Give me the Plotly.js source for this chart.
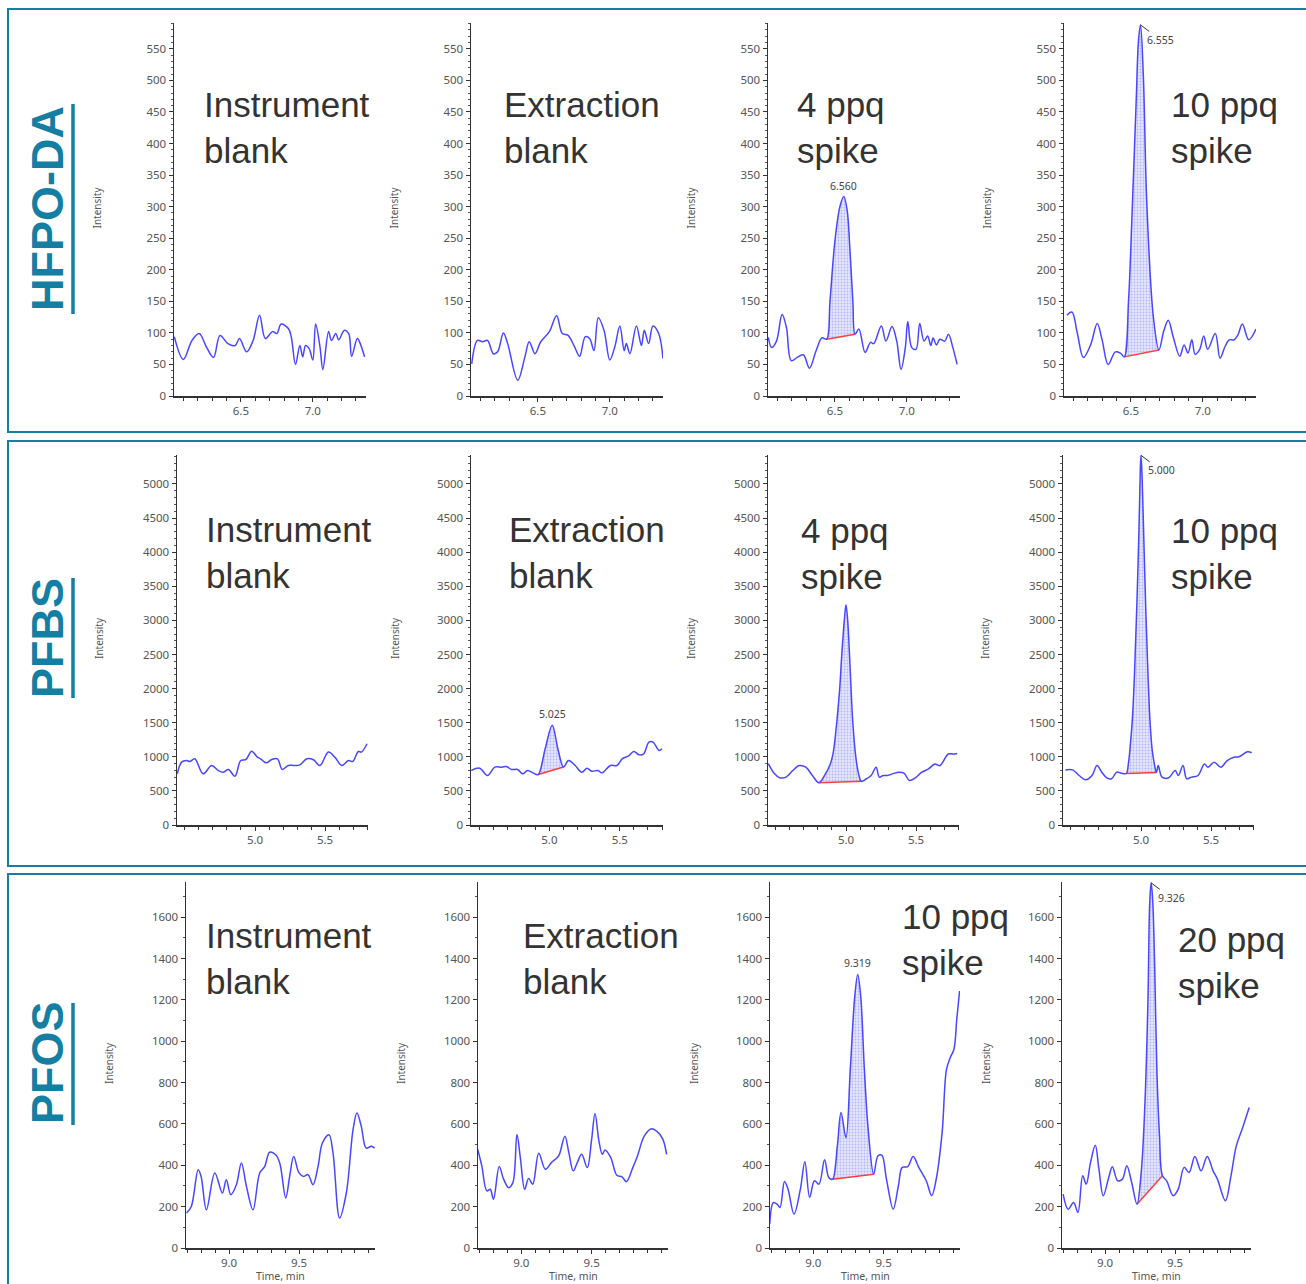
<!DOCTYPE html>
<html>
<head>
<meta charset="utf-8">
<script src="https://cdn.plot.ly/plotly-3.0.1.min.js"></script>
<style>html,body{margin:0;padding:0;background:#fff;}#chart{width:1306px;height:1284px;}</style>
</head>
<body>
<div id="chart"></div>
<script>
// ---------------- DATA ----------------
const rowNames = ['HFPO-DA', 'PFBS', 'PFOS'];
const sampleLabels = [
  ['Instrument<br>blank', 'Extraction<br>blank', '4 ppq<br>spike', '10 ppq<br>spike'],
  ['Instrument<br>blank', 'Extraction<br>blank', '4 ppq<br>spike', '10 ppq<br>spike'],
  ['Instrument<br>blank', 'Extraction<br>blank', '10 ppq<br>spike', '20 ppq<br>spike']
];
const xTickVals = [[6.5, 7.0], [5.0, 5.5], [9.0, 9.5]];
const xTickText = [['6.5', '7.0'], ['5.0', '5.5'], ['9.0', '9.5']];
const xAxisTitle = 'Time, min';
const yAxisTitle = 'Intensity';

// HFPO-DA
const hfpoInstT = [6.037,6.10,6.16,6.21,6.26,6.31,6.355,6.41,6.46,6.49,6.54,6.585,6.63,6.67,6.72,6.75,6.78,6.83,6.85,6.88,6.91,6.93,6.95,6.975,7.0,7.02,7.05,7.07,7.11,7.13,7.16,7.18,7.22,7.25,7.27,7.31,7.33,7.36];
const hfpoInstI = [94,58,88,99,78,61,96,83,80,91,70,88,128,91,102,99,114,107,94,50,80,62,80,75,57,114,78,42,102,88,99,89,104,99,63,91,83,62];
const hfpoExtT = [6.04,6.08,6.115,6.15,6.19,6.22,6.26,6.29,6.36,6.41,6.44,6.48,6.52,6.58,6.63,6.67,6.71,6.755,6.79,6.83,6.86,6.89,6.92,6.96,7.0,7.035,7.07,7.1,7.115,7.14,7.185,7.22,7.24,7.27,7.30,7.34,7.37];
const hfpoExtI = [51,88,86,88,67,70,100,83,25,62,86,67,86,102,127,99,96,78,63,94,91,72,124,104,57,78,111,72,83,67,111,80,104,83,111,99,59];
const hfpoS4T = [6.037,6.06,6.094,6.133,6.163,6.197,6.243,6.282,6.323,6.37,6.41,6.443,6.466,6.50,6.535,6.562,6.585,6.605,6.625,6.64,6.667,6.71,6.748,6.77,6.823,6.855,6.897,6.93,6.96,6.99,7.007,7.034,7.064,7.09,7.12,7.145,7.167,7.183,7.206,7.23,7.264,7.29,7.32,7.35];
const hfpoS4I = [93,77,87,129,109,56,62,65,44,72,92,90,150,245,300,316,295,230,150,98,106,69,85,83,111,87,110,87,42,77,118,77,74,115,87,95,80,92,81,90,87,98,77,50];
const hfpoS4Peak = [6.443, 6.64];
const hfpoS4Label = '6.560';
const hfpoS10T = [6.055,6.09,6.128,6.17,6.22,6.266,6.30,6.342,6.392,6.427,6.454,6.484,6.51,6.537,6.553,6.567,6.587,6.61,6.656,6.695,6.73,6.76,6.794,6.84,6.87,6.897,6.924,6.947,6.977,7.007,7.034,7.087,7.12,7.154,7.184,7.218,7.245,7.275,7.32,7.37];
const hfpoS10I = [128,133,99,61,81,115,89,50,70,68,62,152,300,468,563,588,505,310,126,73,104,120,94,63,81,68,89,66,73,95,74,99,60,78,89,89,97,114,89,106];
const hfpoS10Peak = [6.454, 6.695];
const hfpoS10Label = '6.555';

// PFBS
const pfbsInstT = [4.445,4.476,4.51,4.536,4.57,4.63,4.69,4.738,4.774,4.81,4.857,4.898,4.936,4.976,5.017,5.04,5.08,5.12,5.16,5.195,5.238,5.28,5.32,5.37,5.417,5.464,5.524,5.57,5.62,5.667,5.698,5.738,5.76,5.80];
const pfbsInstI = [750,922,946,931,970,750,873,799,775,814,716,946,961,1083,995,970,912,961,970,814,873,873,882,970,956,873,1069,995,873,946,931,1078,1069,1191];
const pfbsExtT = [4.445,4.505,4.56,4.612,4.66,4.695,4.73,4.774,4.81,4.845,4.886,4.92,4.97,5.02,5.06,5.10,5.136,5.183,5.23,5.267,5.30,5.345,5.374,5.433,5.48,5.517,5.56,5.60,5.636,5.67,5.707,5.736,5.779,5.80];
const pfbsExtI = [799,833,725,848,848,858,814,814,750,799,760,740,1118,1461,1118,850,946,873,775,833,789,799,765,873,873,970,1010,1078,1029,1044,1216,1216,1093,1118];
const pfbsExtPeak = [4.92, 5.10];
const pfbsExtLabel = '5.025';
const pfbsS4T = [4.445,4.49,4.526,4.572,4.62,4.666,4.713,4.76,4.806,4.853,4.888,4.908,4.935,4.955,4.97,4.988,5.0,5.012,5.025,5.036,5.048,5.07,5.09,5.11,5.145,5.18,5.215,5.238,5.266,5.297,5.332,5.378,5.414,5.453,5.495,5.542,5.589,5.636,5.67,5.73,5.764,5.794];
const pfbsS4I = [900,750,692,702,799,871,847,726,620,750,896,1050,1525,2000,2500,3000,3230,3000,2500,2000,1525,1000,750,640,678,726,847,702,726,726,750,774,760,653,692,774,823,896,871,1041,1041,1050];
const pfbsS4Peak = [4.806, 5.11];
const pfbsS10T = [4.46,4.512,4.558,4.605,4.65,4.686,4.72,4.756,4.79,4.826,4.86,4.895,4.91,4.925,4.94,4.955,4.97,4.985,4.995,5.0,5.008,5.02,5.035,5.05,5.065,5.08,5.095,5.11,5.123,5.15,5.198,5.244,5.267,5.30,5.326,5.36,5.407,5.453,5.477,5.523,5.57,5.616,5.663,5.70,5.76,5.79];
const pfbsS10I = [808,808,726,663,726,871,774,692,678,774,760,755,900,1200,1600,2300,3200,4300,5200,5420,5100,4200,3100,2200,1500,1100,900,770,871,702,692,799,726,871,678,702,726,896,847,920,847,944,992,1000,1075,1060];
const pfbsS10Peak = [4.895, 5.11];
const pfbsS10Label = '5.000';

// PFOS
const pfosInstT = [8.695,8.73,8.779,8.80,8.838,8.898,8.952,8.98,9.012,9.052,9.088,9.124,9.171,9.219,9.255,9.29,9.333,9.362,9.405,9.433,9.462,9.5,9.533,9.564,9.6,9.636,9.667,9.714,9.743,9.79,9.838,9.886,9.914,9.945,9.98,10.017,10.04];
const pfosInstI = [169,201,379,346,185,363,266,330,258,306,411,298,185,363,395,463,451,411,242,346,443,363,346,355,306,395,508,548,459,145,266,572,653,588,483,492,483];
const pfosExtT = [8.69,8.719,8.755,8.779,8.802,8.843,8.874,8.91,8.94,8.969,8.993,9.024,9.052,9.081,9.124,9.171,9.214,9.255,9.271,9.31,9.338,9.369,9.398,9.429,9.469,9.5,9.524,9.552,9.576,9.595,9.636,9.679,9.714,9.748,9.79,9.826,9.874,9.926,9.962,10.005,10.033];
const pfosExtI = [477,397,276,284,236,394,333,292,316,549,437,284,336,308,458,381,413,437,453,541,461,373,413,453,389,525,651,517,453,474,437,352,345,321,384,445,541,577,565,528,453];
const pfosS10T = [8.69,8.716,8.742,8.763,8.795,8.82,8.863,8.908,8.94,8.974,9.008,9.04,9.08,9.11,9.137,9.171,9.197,9.232,9.263,9.295,9.316,9.337,9.363,9.39,9.429,9.46,9.487,9.52,9.568,9.605,9.632,9.671,9.71,9.75,9.803,9.842,9.874,9.916,9.947,9.974,10.0,10.02,10.04];
const pfosS10I = [116,220,212,196,322,285,164,285,417,245,325,309,427,341,333,494,655,534,864,1218,1323,1218,864,575,357,446,449,333,188,301,390,393,443,390,325,253,333,559,864,921,961,1106,1243];
const pfosS10Peak = [9.137, 9.429];
const pfosS10Label = '9.319';
const pfosS20T = [8.70,8.736,8.775,8.806,8.84,8.865,8.896,8.93,8.956,8.987,9.026,9.052,9.09,9.124,9.155,9.19,9.228,9.26,9.285,9.306,9.319,9.329,9.34,9.355,9.37,9.389,9.41,9.44,9.487,9.523,9.565,9.6,9.642,9.686,9.73,9.772,9.803,9.86,9.9,9.938,9.98,10.03];
const pfosS20I = [261,188,220,172,349,309,414,497,381,253,341,393,325,333,398,317,212,381,703,1186,1669,1766,1685,1347,864,542,349,325,253,285,390,365,443,373,443,373,333,229,349,494,575,679];
const pfosS20Peak = [9.228, 9.41];
const pfosS20Label = '9.326';

// ---------------- LAYOUT GEOMETRY ----------------
const W = 1306, H = 1284;
const rowPx = [[23, 396], [455, 825], [882, 1248]];
const colPx = [
  [[174, 366], [471, 663], [768, 960], [1064, 1256]],
  [[177, 368], [471, 663], [768, 959], [1063, 1254]],
  [[186, 375], [478, 668], [770, 960], [1062, 1251]]
];
const xRanges = [[6.035, 7.37], [4.443, 5.807], [8.692, 10.043]];
const yRanges = [[0, 591], [0, 5425], [0, 1770]];
const yDtick = [50, 500, 200];
const yMinor = [10, 100, 100];
const labelPx = [
  [[202, 83], [502, 83], [795, 83], [1169, 83]],
  [[204, 508], [507, 508], [799, 509], [1169, 509]],
  [[204, 914], [521, 914], [900, 895], [1176, 918]]
];
const intensityX = [[96, 393, 690, 986], [99, 395, 691, 985], [109, 401, 694, 986]];
const rowLabelY = [209, 638, 1063];
const underlinePx = [[104, 314], [578, 698], [1003, 1125]];
const boxPx = [[9, 432], [441, 866], [874, 1300]];

const panels = [
  {t: hfpoInstT, y: hfpoInstI},
  {t: hfpoExtT, y: hfpoExtI},
  {t: hfpoS4T, y: hfpoS4I, peak: hfpoS4Peak, label: hfpoS4Label, style: 'above'},
  {t: hfpoS10T, y: hfpoS10I, peak: hfpoS10Peak, label: hfpoS10Label, style: 'side'},
  {t: pfbsInstT, y: pfbsInstI},
  {t: pfbsExtT, y: pfbsExtI, peak: pfbsExtPeak, label: pfbsExtLabel, style: 'above'},
  {t: pfbsS4T, y: pfbsS4I, peak: pfbsS4Peak},
  {t: pfbsS10T, y: pfbsS10I, peak: pfbsS10Peak, label: pfbsS10Label, style: 'side'},
  {t: pfosInstT, y: pfosInstI},
  {t: pfosExtT, y: pfosExtI},
  {t: pfosS10T, y: pfosS10I, peak: pfosS10Peak, label: pfosS10Label, style: 'above'},
  {t: pfosS20T, y: pfosS20I, peak: pfosS20Peak, label: pfosS20Label, style: 'side'}
];

// ---------------- BUILD ----------------
const teal = '#147fa3';
const tickFont = {family: 'Noto Sans, Open Sans, sans-serif', size: 11.5, color: '#555'};
const labelFamily = '"Liberation Sans", Arial, sans-serif';
const px2x = v => v / W;
const px2y = v => 1 - v / H;
const SMOOTH = 1.0;

const traces = [];
const layout = {
  width: W, height: H,
  margin: {l: 0, r: 0, t: 0, b: 0},
  paper_bgcolor: '#ffffff', plot_bgcolor: 'rgba(0,0,0,0)',
  showlegend: false, hovermode: false,
  annotations: [], shapes: []
};

panels.forEach((p, k) => {
  const r = Math.floor(k / 4), c = k % 4, n = k + 1;
  const xa = n === 1 ? 'x' : 'x' + n, ya = n === 1 ? 'y' : 'y' + n;
  const xKey = n === 1 ? 'xaxis' : 'xaxis' + n, yKey = n === 1 ? 'yaxis' : 'yaxis' + n;
  layout[xKey] = {
    domain: [px2x(colPx[r][c][0]), px2x(colPx[r][c][1])],
    range: xRanges[r], anchor: ya, fixedrange: true,
    showline: true, linecolor: '#333', linewidth: 1.5, mirror: false,
    showgrid: false, zeroline: false,
    tickmode: 'array', tickvals: xTickVals[r], ticktext: xTickText[r],
    ticks: 'outside', ticklen: 4, tickwidth: 1, tickcolor: '#333',
    minor: {tickmode: 'linear', tick0: 0, dtick: 0.1, ticks: 'outside', ticklen: 3, tickcolor: '#333', tickwidth: 1},
    tickfont: tickFont
  };
  layout[yKey] = {
    domain: [px2y(rowPx[r][1]), px2y(rowPx[r][0])],
    range: yRanges[r], anchor: xa, fixedrange: true,
    showline: true, linecolor: '#333', linewidth: 1.5,
    showgrid: false, zeroline: false,
    tickmode: 'linear', tick0: 0, dtick: yDtick[r],
    ticks: 'outside', ticklen: 4, tickwidth: 1, tickcolor: '#333',
    minor: {tickmode: 'linear', tick0: 0, dtick: yMinor[r], ticks: 'outside', ticklen: 2, tickcolor: '#555', tickwidth: 1},
    tickfont: tickFont
  };

  if (p.peak) {
    const idx = p.t.map((v, i) => i).filter(i => p.t[i] >= p.peak[0] - 1e-9 && p.t[i] <= p.peak[1] + 1e-9);
    const pt = idx.map(i => p.t[i]), py = idx.map(i => p.y[i]);
    traces.push({
      x: pt, y: py, xaxis: xa, yaxis: ya, type: 'scatter', mode: 'lines',
      line: {width: 0, shape: 'spline', smoothing: SMOOTH, color: 'rgba(0,0,0,0)'},
      fill: 'toself', fillcolor: 'rgba(226,228,255,1)',
      fillpattern: {shape: '.', fgcolor: 'rgba(110,110,235,0.4)', bgcolor: 'rgba(228,230,255,1)', size: 3, solidity: 0.3},
      hoverinfo: 'skip'
    });
    traces.push({
      x: [pt[0], pt[pt.length - 1]], y: [py[0], py[py.length - 1]],
      xaxis: xa, yaxis: ya, type: 'scatter', mode: 'lines',
      line: {color: '#ff3d3d', width: 1.5}, hoverinfo: 'skip'
    });
    if (p.label) {
      let ai = 0;
      py.forEach((v, i) => { if (v > py[ai]) ai = i; });
      if (p.style === 'above') {
        layout.annotations.push({
          xref: xa, yref: ya, x: pt[ai], y: py[ai], text: p.label, showarrow: false,
          xanchor: 'center', yanchor: 'bottom', yshift: 2,
          font: {family: 'Noto Sans, sans-serif', size: 10.5, color: '#444'}
        });
      } else {
        layout.annotations.push({
          xref: xa, yref: ya, x: pt[ai], y: py[ai], text: p.label, showarrow: true,
          arrowhead: 0, arrowwidth: 1, arrowcolor: '#333', ax: 20, ay: 15, standoff: 0,
          font: {family: 'Noto Sans, sans-serif', size: 10.5, color: '#444'}
        });
      }
    }
  }
  traces.push({
    x: p.t, y: p.y, xaxis: xa, yaxis: ya, type: 'scatter', mode: 'lines',
    line: {color: '#4747ff', width: 1.5, shape: 'spline', smoothing: SMOOTH}, hoverinfo: 'skip'
  });

  // sample label
  layout.annotations.push({
    xref: 'paper', yref: 'paper', x: px2x(labelPx[r][c][0]), y: px2y(labelPx[r][c][1]),
    xanchor: 'left', yanchor: 'top', align: 'left', showarrow: false,
    text: sampleLabels[r][c],
    font: {family: labelFamily, size: 35, color: '#333'}
  });
  // Intensity label
  layout.annotations.push({
    xref: 'paper', yref: 'paper', x: px2x(intensityX[r][c]), y: px2y((rowPx[r][0] + rowPx[r][1]) / 2 - 2),
    xanchor: 'center', yanchor: 'middle', textangle: -90, showarrow: false,
    text: yAxisTitle, font: {family: 'Noto Sans, sans-serif', size: 10, color: '#555'}
  });
  if (r === 2) {
    layout.annotations.push({
      xref: 'paper', yref: 'paper', x: px2x((colPx[r][c][0] + colPx[r][c][1]) / 2), y: px2y(1276),
      xanchor: 'center', yanchor: 'middle', showarrow: false,
      text: xAxisTitle, font: {family: 'Noto Sans, sans-serif', size: 10.5, color: '#555'}
    });
  }
});

rowNames.forEach((name, r) => {
  layout.annotations.push({
    xref: 'paper', yref: 'paper', x: px2x(47), y: px2y(rowLabelY[r]),
    xanchor: 'center', yanchor: 'middle', textangle: -90, showarrow: false,
    text: '<b>' + name + '</b>', font: {family: labelFamily, size: 45, color: teal}
  });
  layout.shapes.push({
    type: 'line', xref: 'paper', yref: 'paper',
    x0: px2x(73), x1: px2x(73), y0: px2y(underlinePx[r][0]), y1: px2y(underlinePx[r][1]),
    line: {color: teal, width: 3.5}
  });
  layout.shapes.push({
    type: 'rect', xref: 'paper', yref: 'paper',
    x0: px2x(8), x1: 1.02, y0: px2y(boxPx[r][1]), y1: px2y(boxPx[r][0]),
    line: {color: teal, width: 2}, fillcolor: 'rgba(0,0,0,0)', layer: 'below'
  });
});

Plotly.newPlot('chart', traces, layout, {staticPlot: true, displayModeBar: false});
</script>
</body>
</html>
